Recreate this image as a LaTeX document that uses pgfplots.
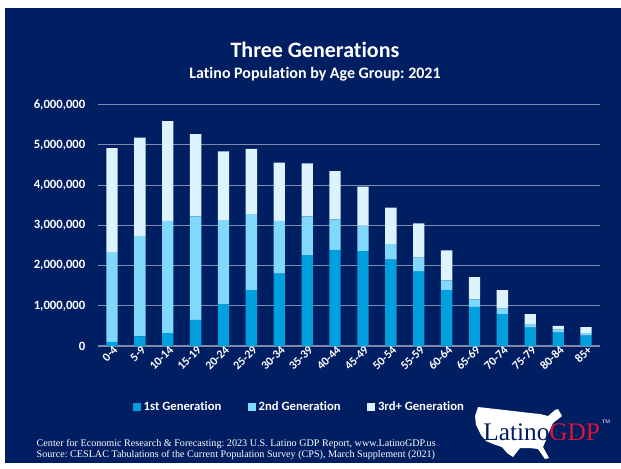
\documentclass[border=0pt]{standalone}
\usepackage{fontspec}
\setmainfont{Carlito}[Ligatures=CommonOff]
\newfontfamily\footfont{Liberation Serif}
\usepackage{pgfplots}
\usepackage{pgfplotstable}
\pgfplotsset{compat=1.18}
\frenchspacing

\definecolor{navy}{RGB}{0,30,98}
\definecolor{genone}{RGB}{0,160,222}
\definecolor{gentwo}{RGB}{128,216,250}
\definecolor{genthree}{RGB}{221,243,254}
\definecolor{gridc}{RGB}{130,138,170}
\definecolor{gdpred}{RGB}{222,20,50}

% Latino population by age group and generation, 2021
\pgfplotstableread{
age   g1      g2      g3
0-4   100000  2240000 2580000
5-9   240000  2500000 2440000
10-14 320000  2790000 2480000
15-19 650000  2570000 2050000
20-24 1040000 2090000 1710000
25-29 1390000 1890000 1620000
30-34 1800000 1310000 1450000
35-39 2260000 960000  1320000
40-44 2390000 760000  1200000
45-49 2360000 630000  970000
50-54 2150000 390000  900000
55-59 1850000 350000  850000
60-64 1390000 240000  750000
65-69 970000  190000  550000
70-74 790000  140000  460000
75-79 460000  90000   240000
80-84 330000  80000   90000
85+   260000  60000   150000
}\gen

\begin{document}
\begin{tikzpicture}[x=0.75pt,y=-0.75pt]
\useasboundingbox (0,0) rectangle (621,468);
\fill[white] (0,0) rectangle (621,468);
\fill[navy] (5,8) rectangle (621,463);

\node[text=white,font=\bfseries\fontsize{16.5}{18}\selectfont] at (315,50) {Three Generations};
\node[text=white,font=\bfseries\fontsize{12}{14}\selectfont] at (315,74) {Latino Population by Age Group: 2021};

\begin{axis}[
  at={(73.5pt,-259.5pt)}, anchor=south west,
  scale only axis,
  width=376.5pt, height=181pt,
  ybar stacked, bar width=8.5pt,
  xmin=-0.5, xmax=17.5,
  ymin=0, ymax=6000000,
  ytick={0,1000000,...,6000000},
  scaled y ticks=false,
  xtick=data,
  xticklabels from table={\gen}{age},
  major tick length=0pt,
  axis line style={draw=none},
  ymajorgrids,
  grid style={gridc, line width=0.8pt},
  tick label style={text=white, font=\bfseries\fontsize{9.5}{11}\selectfont},
  yticklabel style={/pgf/number format/fixed, /pgf/number format/1000 sep={,},
    /pgf/number format/assume math mode=true, xshift=-6pt},
  xticklabel style={rotate=45, anchor=east, inner sep=1pt, xshift=2pt, yshift=-3pt,
    font=\bfseries\fontsize{9}{10}\selectfont},
  legend style={at={(0.402,-0.253)}, anchor=center, draw=none, fill=none,
    text=white, font=\bfseries\fontsize{9.5}{11}\selectfont},
  legend columns=3,
  legend image code/.code={\fill[#1] (0pt,-3pt) rectangle (6pt,3pt);},
  /tikz/every even column/.append style={column sep=18pt},
]
\addplot[fill=genone, draw=none] table[x expr=\coordindex, y=g1] {\gen};
\addlegendentry{1st Generation}
\addplot[fill=gentwo, draw=none] table[x expr=\coordindex, y=g2] {\gen};
\addlegendentry{2nd Generation}
\addplot[fill=genthree, draw=none] table[x expr=\coordindex, y=g3] {\gen};
\addlegendentry{3rd+ Generation}
\end{axis}

% footer
\node[anchor=base west,text=white,font=\footfont\fontsize{7.6}{9}\selectfont] at (32,446)
  {Center for Economic Research \& Forecasting: 2023 U.S. Latino GDP Report, www.LatinoGDP.us};
\node[anchor=base west,text=white,font=\footfont\fontsize{7.6}{9}\selectfont] at (32,457)
  {Source: CESLAC Tabulations of the Current Population Survey (CPS), March Supplement (2021)};

% logo
\fill[white] (478,407) -- (513,411) -- (530,413) -- (540,414) -- (548,416) -- (555,410)
  -- (558,409) -- (562,416) -- (553,423) -- (549,432) -- (546,440) -- (543,447)
  -- (549,458) -- (545,459) -- (538,449) -- (530,448) -- (520,448) -- (513,457)
  -- (507,453) -- (502,447) -- (493,444) -- (486,441) -- (481,435) -- (476,425)
  -- (475,416) -- cycle;
\node[anchor=base west,inner sep=0pt,font=\footfont\fontsize{19}{20}\selectfont] at (483,440)
  {\textcolor{navy}{Latino}\textcolor{gdpred}{GDP}};
\node[text=white,inner sep=0pt,font=\footfont\fontsize{4}{5}\selectfont] at (606,422) {TM};
\end{tikzpicture}
\end{document}
